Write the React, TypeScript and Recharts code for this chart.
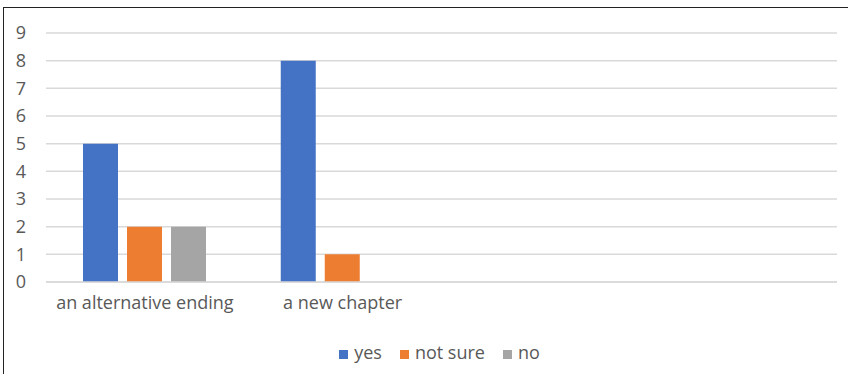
import React from 'react';
import { BarChart, Bar, XAxis, YAxis, CartesianGrid, Legend } from 'recharts';

const categories = ['an alternative ending', 'a new chapter', '', ' '];
const yesValues = [5, 8, null, null];
const notSureValues = [2, 1, null, null];
const noValues = [2, 0, null, null];
const yTicks = [0, 1, 2, 3, 4, 5, 6, 7, 8, 9];

const series = [
  { key: 'yes', label: 'yes', color: '#4472C4' },
  { key: 'notSure', label: 'not sure', color: '#ED7D31' },
  { key: 'no', label: 'no', color: '#A5A5A5' },
];
const seriesOrder = series.map((s) => s.label);

const chartData = categories.map((name, i) => ({
  name,
  yes: yesValues[i],
  notSure: notSureValues[i],
  no: noValues[i],
}));

const font = '"Open Sans", sans-serif';
const textColor = '#595959';
const gridColor = '#d9d9d9';
const fontSize = 18;

const App: React.FC = () => {
  return (
    <div style={{ position: 'absolute', left: 0, top: 0, width: 848, height: 374, overflow: 'hidden', background: '#fff', fontFamily: font }}>
      <div style={{ position: 'absolute', left: 3, top: 7, width: 900, height: 400, border: '1.5px solid #222' }} />
      <div style={{ position: 'absolute', left: 0, top: 0 }}>
        <BarChart
          width={848}
          height={374}
          data={chartData}
          margin={{ top: 33, right: 11, left: 0, bottom: 28 }}
          barCategoryGap={37}
          barGap={9}
        >
          <CartesianGrid vertical={false} stroke={gridColor} strokeWidth={1.5} />
          <XAxis
            dataKey="name"
            height={40}
            axisLine={{ stroke: gridColor, strokeWidth: 1.5 }}
            tickLine={false}
            tickSize={0}
            tickMargin={14}
            interval={0}
            tick={{ fill: textColor, fontSize, fontFamily: font }}
          />
          <YAxis
            width={46}
            domain={[0, 9]}
            ticks={yTicks}
            axisLine={false}
            tickLine={false}
            tickSize={0}
            tickMargin={20}
            tick={{ fill: textColor, fontSize, fontFamily: font }}
          />
          <Legend
            verticalAlign="bottom"
            iconType="square"
            iconSize={9}
            itemSorter={(item: any) => seriesOrder.indexOf(item.value)}
            wrapperStyle={{ bottom: 10, fontSize, fontFamily: font, paddingLeft: 30 }}
            formatter={(value: string) => (
              <span style={{ color: textColor, marginLeft: 2, marginRight: 8 }}>{value}</span>
            )}
          />
          {series.map((s) => (
            <Bar key={s.key} dataKey={s.key} name={s.label} fill={s.color} isAnimationActive={false} />
          ))}
        </BarChart>
      </div>
    </div>
  );
};

export default App;
